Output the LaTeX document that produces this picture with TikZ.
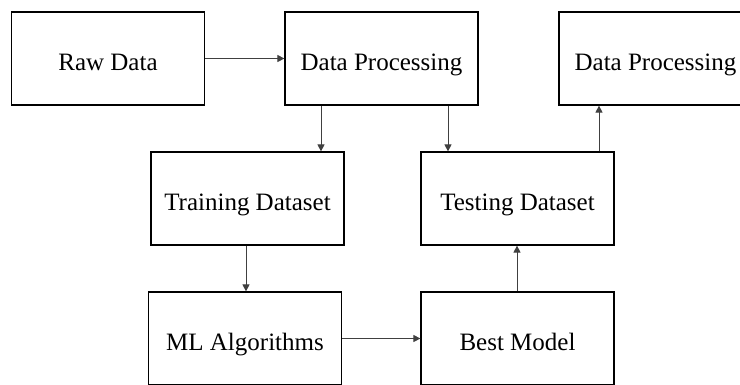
\documentclass[tikz,border=0pt]{standalone}
\usepackage{fontspec}
\setmainfont{Liberation Serif}
\usetikzlibrary{arrows.meta}

\begin{document}
\begin{tikzpicture}[x=1pt,y=-1pt,
    stepbox/.style={draw,line width=1.2pt,minimum width=193pt,minimum height=93pt,
      inner sep=0pt,text height=27pt,text depth=4pt,font=\fontsize{25}{30}\selectfont},
    arr/.style={draw=black!75,line width=0.9pt,-{Triangle[length=7pt,width=7pt]}}]
      \clip (0,0) rectangle (740,384);
      \node[stepbox] (raw) at (108,58.5) {Raw Data};
      \node[stepbox] (proc) at (381.5,58.5) {Data Processing};
      \node[stepbox] (proc2) at (655.5,58.5) {Data Processing};
      \node[stepbox] (train) at (247.5,198.5) {Training Dataset};
      \node[stepbox] (test) at (517.5,198.5) {Testing Dataset};
      \node[stepbox] (algo) at (245,338.5) {ML Algorithms};
      \node[stepbox] (best) at (517.5,338.5) {Best Model};
      % x positions of the vertical connectors
      \coordinate (xa) at (321,0);
      \coordinate (xb) at (448,0);
      \coordinate (xc) at (599,0);
      \coordinate (xd) at (246,0);
      \coordinate (xe) at (517,0);
      \draw[arr] (raw) -- (proc);
      \draw[arr] (proc.south -| xa) -- (train.north -| xa);
      \draw[arr] (proc.south -| xb) -- (test.north -| xb);
      \draw[arr] (test.north -| xc) -- (proc2.south -| xc);
      \draw[arr] (train.south -| xd) -- (algo.north -| xd);
      \draw[arr] (algo) -- (best);
      \draw[arr] (best.north -| xe) -- (test.south -| xe);
    \end{tikzpicture}
\end{document}
